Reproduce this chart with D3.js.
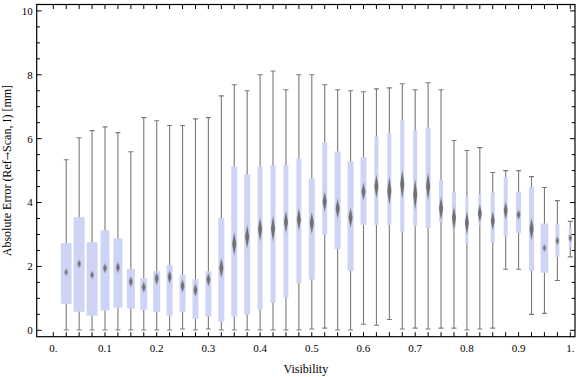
<!DOCTYPE html>
<html>
<head>
<meta charset="utf-8">
<script src="https://cdn.jsdelivr.net/npm/d3@7"></script>
<style>
  body { margin: 0; background: #fff; }
  svg { display: block; }
  text { font-family: "Liberation Serif", "DejaVu Serif", serif; fill: #000; }
</style>
</head>
<body>
<svg id="chart" width="576" height="377"></svg>
<script>
// visibility bins (box positions)
var visibility = [0.025, 0.05, 0.075, 0.1, 0.125, 0.15, 0.175, 0.2, 0.225, 0.25,
    0.275, 0.3, 0.325, 0.35, 0.375, 0.4, 0.425, 0.45, 0.475, 0.5,
    0.525, 0.55, 0.575, 0.6, 0.625, 0.65, 0.675, 0.7, 0.725, 0.75,
    0.775, 0.8, 0.825, 0.85, 0.875, 0.9, 0.925, 0.95, 0.975, 1.0];

var whiskerHigh = [5.34, 6.03, 6.25, 6.37, 6.19, 5.59, 6.66, 6.56, 6.41, 6.41,
    6.62, 6.66, 7.34, 7.69, 7.50, 8.00, 8.12, 7.53, 8.00, 8.00,
    7.69, 7.53, 7.50, 7.47, 7.56, 7.59, 7.72, 7.53, 7.75, 7.53,
    5.94, 5.63, 5.72, 4.94, 5.00, 5.00, 4.81, 4.47, 4.06, 3.41];

var upperQuartile = [2.73, 3.54, 2.76, 3.13, 2.88, 1.92, 1.63, 1.85, 2.04, 1.73,
    1.60, 1.85, 3.51, 5.13, 4.88, 5.13, 5.17, 5.17, 5.38, 4.76,
    5.88, 5.60, 5.29, 5.42, 6.07, 6.17, 6.59, 6.26, 6.35, 4.70,
    4.34, 4.18, 4.25, 4.31, 4.79, 4.34, 4.48, 3.34, 3.34, 3.21];

var median = [1.82, 2.08, 1.73, 1.94, 1.97, 1.52, 1.35, 1.62, 1.67, 1.39,
    1.26, 1.59, 1.95, 2.70, 2.93, 3.16, 3.18, 3.39, 3.47, 3.36,
    4.03, 3.81, 3.53, 4.34, 4.50, 4.37, 4.57, 4.25, 4.51, 3.81,
    3.52, 3.36, 3.66, 3.43, 3.75, 3.62, 3.17, 2.58, 2.80, 2.89];

var lowerQuartile = [0.83, 0.58, 0.46, 0.62, 0.71, 0.68, 0.64, 0.58, 0.46, 0.58,
    0.36, 0.43, 0.27, 0.43, 0.49, 0.64, 0.86, 1.02, 1.47, 1.59,
    2.99, 2.54, 1.86, 3.30, 3.30, 3.30, 3.08, 3.27, 3.21, 3.39,
    3.21, 2.71, 3.30, 2.74, 2.93, 3.05, 1.86, 1.80, 2.30, 2.61];

var whiskerLow = [0.01, 0.01, 0.01, 0.01, 0.01, 0.01, 0.01, 0.01, 0.01, 0.04,
    0.01, 0.04, 0.01, 0.01, 0.01, 0.01, 0.01, 0.01, 0.01, 0.04,
    0.07, 0.01, 0.01, 0.19, 0.16, 0.34, 0.04, 0.07, 0.04, 0.07,
    0.07, 0.01, 0.04, 0.07, 1.91, 1.91, 0.50, 0.53, 1.56, 2.30];

// half range of the median confidence diamond
var medianCI = [0.09, 0.11, 0.11, 0.14, 0.16, 0.16, 0.16, 0.19, 0.20, 0.19,
    0.19, 0.20, 0.31, 0.36, 0.36, 0.36, 0.39, 0.34, 0.34, 0.34,
    0.31, 0.31, 0.31, 0.27, 0.36, 0.44, 0.44, 0.47, 0.42, 0.36,
    0.34, 0.36, 0.28, 0.28, 0.27, 0.14, 0.34, 0.09, 0.11, 0.11];

// relative sample size per bin (sets box width)
var counts = [107, 110, 110, 90, 90, 80, 70, 70, 60, 60,
    60, 60, 60, 60, 60, 50, 50, 50, 50, 60,
    50, 60, 60, 60, 40, 40, 40, 40, 50, 40,
    40, 30, 30, 40, 40, 50, 50, 77, 40, 30];

var xTickValues = [0, 0.1, 0.2, 0.3, 0.4, 0.5, 0.6, 0.7, 0.8, 0.9, 1.0];
var xTickLabels = ['0.', '0.1', '0.2', '0.3', '0.4', '0.5', '0.6', '0.7', '0.8', '0.9', '1.'];
var yTickValues = [0, 2, 4, 6, 8, 10];

var svg = d3.select('#chart');

var frame = {l: 36.7, r: 575, t: 4.5, b: 336.7};

var xScale = d3.scaleLinear().domain([-0.0321, 1.0091]).range([frame.l, frame.r]);
var yScale = d3.scaleLinear().domain([-0.2, 10.2]).range([frame.b, frame.t]);
var widthScale = d3.scaleLinear().domain([0, 110]).range([0, 11]);

var data = visibility.map(function(v, i) {
    return {
        x: v,
        lo: whiskerLow[i],
        q1: lowerQuartile[i],
        med: median[i],
        q3: upperQuartile[i],
        hi: whiskerHigh[i],
        ci: medianCI[i],
        n: counts[i]
    };
});

var defs = svg.append('defs');
defs.append('filter')
    .attr('id', 'soft')
    .attr('x', '-150%').attr('y', '-50%')
    .attr('width', '400%').attr('height', '200%')
    .append('feGaussianBlur')
    .attr('stdDeviation', '0.7 0.9');
defs.append('clipPath').attr('id', 'plotClip')
    .append('rect')
    .attr('x', frame.l).attr('y', frame.t)
    .attr('width', frame.r - frame.l).attr('height', frame.b - frame.t);

var plotG = svg.append('g').attr('clip-path', 'url(#plotClip)');

var boxes = plotG.selectAll('.box')
    .data(data)
    .enter()
    .append('g')
    .attr('class', 'box');

// whiskers
boxes.append('line')
    .attr('x1', function(d) { return xScale(d.x); })
    .attr('x2', function(d) { return xScale(d.x); })
    .attr('y1', function(d) { return yScale(d.lo); })
    .attr('y2', function(d) { return yScale(d.hi); })
    .attr('stroke', '#7a7a7a')
    .attr('stroke-width', 1.1);

// caps
['lo', 'hi'].forEach(function(key) {
    boxes.append('line')
        .attr('x1', function(d) { return xScale(d.x) - 2.5; })
        .attr('x2', function(d) { return xScale(d.x) + 2.5; })
        .attr('y1', function(d) { return yScale(d[key]); })
        .attr('y2', function(d) { return yScale(d[key]); })
        .attr('stroke', '#7a7a7a')
        .attr('stroke-width', 1.1);
});

// interquartile box
boxes.append('rect')
    .attr('x', function(d) { return xScale(d.x) - widthScale(d.n) / 2; })
    .attr('width', function(d) { return widthScale(d.n); })
    .attr('y', function(d) { return yScale(d.q3); })
    .attr('height', function(d) { return yScale(d.q1) - yScale(d.q3); })
    .attr('fill', '#cdd4f5');

// median diamond
boxes.append('path')
    .attr('d', function(d) {
        var cx = xScale(d.x), cy = yScale(d.med);
        var h = Math.max(yScale(0) - yScale(d.ci), 3);
        var w = 2.1;
        return 'M' + cx + ',' + (cy - h) + 'L' + (cx + w) + ',' + cy +
            'L' + cx + ',' + (cy + h) + 'L' + (cx - w) + ',' + cy + 'Z';
    })
    .attr('fill', '#707070')
    .attr('filter', 'url(#soft)');

// frame ticks
var xMinor = d3.range(0, 41).map(function(i) { return i * 0.025; });
var yMinor = d3.range(0, 21).map(function(i) { return i * 0.5; });

var tickG = svg.append('g').attr('stroke', '#000').attr('stroke-width', 1);

xMinor.forEach(function(v) {
    var len = 4.5;
    tickG.append('line')
        .attr('x1', xScale(v)).attr('x2', xScale(v))
        .attr('y1', frame.b).attr('y2', frame.b - len);
    tickG.append('line')
        .attr('x1', xScale(v)).attr('x2', xScale(v))
        .attr('y1', frame.t).attr('y2', frame.t + len);
});

yMinor.forEach(function(v) {
    var len = (v % 2 === 0) ? 5 : 3.2;
    tickG.append('line')
        .attr('x1', frame.l).attr('x2', frame.l + len)
        .attr('y1', yScale(v)).attr('y2', yScale(v));
    tickG.append('line')
        .attr('x1', frame.r).attr('x2', frame.r - len)
        .attr('y1', yScale(v)).attr('y2', yScale(v));
});

svg.append('rect')
    .attr('x', frame.l).attr('y', frame.t)
    .attr('width', frame.r - frame.l).attr('height', frame.b - frame.t)
    .attr('fill', 'none')
    .attr('stroke', '#000')
    .attr('stroke-width', 1.2);

// tick labels
svg.selectAll('.xlab')
    .data(xTickValues)
    .enter()
    .append('text')
    .attr('class', 'xlab')
    .attr('x', function(d) { return xScale(d); })
    .attr('y', 351.5)
    .attr('text-anchor', 'middle')
    .style('font-size', '11px')
    .text(function(d, i) { return xTickLabels[i]; });

svg.selectAll('.ylab')
    .data(yTickValues)
    .enter()
    .append('text')
    .attr('class', 'ylab')
    .attr('x', 32.8)
    .attr('y', function(d) { return yScale(d); })
    .attr('dy', '0.35em')
    .attr('text-anchor', 'end')
    .style('font-size', '11px')
    .text(function(d) { return d; });

// axis titles
svg.append('text')
    .attr('x', (frame.l + frame.r) / 2)
    .attr('y', 373)
    .attr('text-anchor', 'middle')
    .style('font-size', '12px')
    .text('Visibility');

var yTitle = svg.append('text')
    .attr('transform', 'translate(11,' + ((frame.t + frame.b) / 2) + ') rotate(-90)')
    .attr('text-anchor', 'middle')
    .style('font-size', '12px');
yTitle.append('tspan').text('Absolute Error (Ref');
yTitle.append('tspan').style('font-family', '"DejaVu Serif", serif').style('font-size', '10px').text('\u2192');
yTitle.append('tspan').text('Scan, I) [mm]');
</script>
</body>
</html>
